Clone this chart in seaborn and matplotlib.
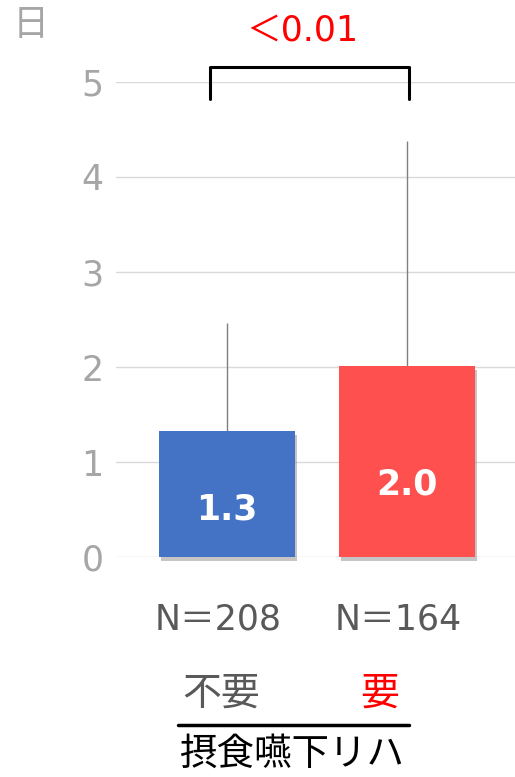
import numpy as np
import seaborn as sns
import matplotlib.pyplot as plt
import matplotlib.patheffects as pe
from matplotlib.transforms import ScaledTranslation

groups = ["N＝208", "N＝164"]
means = [1.33, 2.01]
sd_upper = [2.46, 4.38]
bar_text = ["1.3", "2.0"]
sub_labels = ["不要", "要"]
p_text = "＜0.01"
colors = ["#4472C4", "#FF5050"]

sns.set_style("white")
plt.rcParams['font.family'] = ['DejaVu Sans', 'Noto Sans CJK JP']

fig = plt.figure(figsize=(5.15, 7.77), dpi=100)
ax = fig.add_axes([0.225, 0.2831, 0.775, 0.6114])

sns.barplot(x=groups, y=means, hue=groups, palette=colors, legend=False,
            width=0.755, saturation=1, ax=ax, zorder=3)
for bar in ax.patches:
    bar.set_clip_on(False)
    bar.set_linewidth(0)
    bar.set_path_effects([pe.withSimplePatchShadow(offset=(1.5, -3), shadow_rgbFace='#7F7F7F', alpha=0.45)])

xs = np.arange(len(groups))
err = np.array(sd_upper) - np.array(means)
ax.errorbar(xs, means, yerr=[np.zeros_like(err), err], fmt='none',
            ecolor='#7F7F7F', elinewidth=1, capsize=0, zorder=2)

for x, m, t in zip(xs, means, bar_text):
    ax.text(x, m * 0.38, t, ha='center', va='center', color='white',
            fontsize=25, fontweight='bold', zorder=5)

ax.set_ylim(0, 5)
ax.set_xlim(-0.615, 1.6)
ax.set_yticks(range(6))
ax.yaxis.grid(True, color='#D9D9D9', lw=1)
ax.set_axisbelow(True)
sns.despine(left=True, bottom=True)
ax.tick_params(axis='y', length=0, pad=9, labelsize=25, labelcolor='#A6A6A6')
ax.tick_params(axis='x', length=0, pad=33, labelsize=25, labelcolor='#595959')
ax.set(xlabel='', ylabel='')
shift = ScaledTranslation(-9 / 100, 0, fig.dpi_scale_trans)
for lab in ax.get_xticklabels():
    lab.set_transform(lab.get_transform() + shift)

# significance bracket
bx = [-0.094, -0.094, 1.01, 1.01]
by = [4.82, 5.16, 5.16, 4.82]
ax.plot(bx, by, color='black', lw=2.2, clip_on=False, solid_joinstyle='round')
ax.text(0.42, 5.54, p_text, ha='center', va='center', color='#FF0000',
        fontsize=25)

fig.text(0.060, 0.968, "日", ha='center', va='center', color='#A6A6A6', fontsize=26)
fig.text(0.429, 0.107, sub_labels[0], ha='center', va='center', color='#595959', fontsize=28)
fig.text(0.738, 0.107, sub_labels[1], ha='center', va='center', color='#FF0000', fontsize=28)
fig.add_artist(plt.Line2D([0.346, 0.794], [0.067, 0.067], color='black', lw=2.5))
fig.text(0.567, 0.028, "摂食嚥下リハ", ha='center', va='center', color='black', fontsize=27)

fig.savefig("out.png", dpi=100)
